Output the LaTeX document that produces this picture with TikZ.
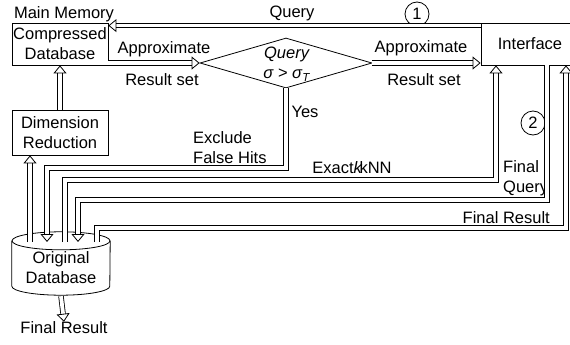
\documentclass[tikz,border=0pt]{standalone}
\usepackage{fontspec}
\setmainfont{Liberation Sans}
\usepackage{pgf,tikz}
\usetikzlibrary{shapes.geometric}
\usetikzlibrary{arrows.meta}

\begin{document}
\begin{tikzpicture}[x=1pt,y=-1pt,font=\fontsize{16.5}{20}\selectfont,
  box/.style={draw,line width=0.8pt,minimum width=96pt,minimum height=42pt,align=center,inner sep=0pt},
  pipe/.style={double,double distance=3.8pt,line width=0.8pt,line join=miter},
  tip/.style={-{Triangle[open,length=8pt,width=13pt,line width=0.8pt]}},
  num/.style={draw,circle,line width=0.8pt,minimum size=24pt,inner sep=0pt},
  lbl/.style={inner sep=0pt,align=left}]
\useasboundingbox (0,0) rectangle (570,345);
% blocks
\node [lbl] (mm) at (64,14) {Main Memory};
\node [box] (cd) at (60,44) {Compressed\\Database};
\node [box,minimum height=45pt] (dr) at (60,132.5) {Dimension\\Reduction};
\node [lbl,align=center,minimum width=98pt,minimum height=54pt] (db) at (61,268) {Original\\Database};
\draw [line width=0.8pt] (db.north) ellipse [x radius=49, y radius=9];
\draw [line width=0.8pt] (db.north west) -- ([yshift=9pt]db.south west)
  arc [start angle=180, end angle=0, x radius=49, y radius=9] -- (db.north east);
\node [diamond,draw,line width=0.8pt,minimum width=172pt,minimum height=50pt,inner sep=0pt] (test) at (286,63) {};
\node [lbl,align=center] (cond) at (287,64) {\textit{Query}\\\textit{σ > σ}\textsubscript{\textit{T}}};
\node [box,minimum width=98pt] (ifc) at (530,44) {Interface};
\coordinate (dbtop) at (61,242);
% labels
\node [lbl] (qry) at (292,13) {Query};
\node [num] (n1) at (417,14) {1};
\node [lbl] (ap1) at (164,49) {Approximate};
\node [lbl] (rs1) at (162,80) {Result set};
\node [lbl] (ap2) at (421,48) {Approximate};
\node [lbl] (rs2) at (424,80) {Result set};
\node [lbl] (yes) at (305,112) {Yes};
\node [lbl,anchor=west] (excl) at (193,148) {Exclude\\False Hits};
\node [lbl] (knn) at (352,168) {Exact\textit{k}\kern-3pt kNN};
\node [lbl,anchor=west] (fq) at (503,178) {Final\\Query};
\node [lbl,anchor=east] (fr) at (550,218) {Final Result};
\node [num] (n2) at (533,123) {2};
\node [lbl] (out) at (64,328) {Final Result};
% connectors
\draw [pipe,tip] ([yshift=-3pt]ifc.north west) -- ([yshift=-3pt]cd.north east);
\draw [pipe,tip] (cd.east |- test.west) -- (test.west);
\draw [pipe,tip] (test.east) -- (test.east -| ifc.west);
\draw [pipe,tip] (dr.north) -- (cd.south);
\draw [pipe,tip] (30,0 |- dbtop) -- (30,0 |- dr.south);
\draw [pipe,tip] (test.south) |- (47,168) -- (47,0 |- dbtop);
\draw [pipe,tip] (65,0 |- dbtop) |- (496,180) -- (496,0 |- ifc.south);
\draw [pipe,tip] (547,0 |- ifc.south) |- (78,200) -- (78,0 |- dbtop);
\draw [pipe,tip] (97,0 |- dbtop) |- (566,228) -- (566,0 |- ifc.south);
\draw [pipe,tip] ([yshift=-1pt]db.south) -- (out.north);
\end{tikzpicture}
\end{document}
